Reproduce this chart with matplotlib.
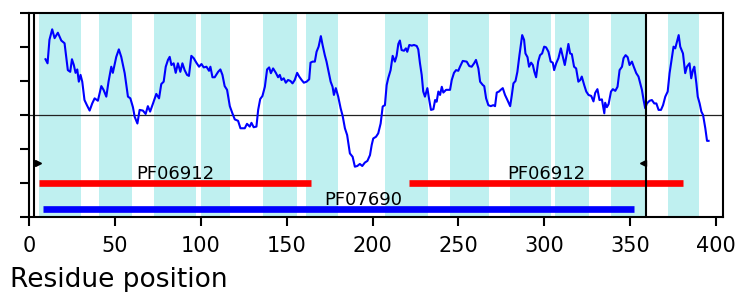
import matplotlib
matplotlib.use("Agg")
import matplotlib.pyplot as plt
import numpy as np

# hydropathy profile (residue, score)
resid = [9.6, 10.8, 11.9, 13.5, 14.9, 16.8, 18.8, 20.7, 22.6, 24.0, 25.0, 26.1, 27.1, 28.1,
         29.0, 30.0, 31.0, 32.3, 33.7, 35.3, 36.8, 38.2, 40.1, 42.1, 43.4, 45.0, 46.3, 47.9,
         48.8, 50.8, 52.3, 53.7, 55.7, 57.6, 59.0, 60.5, 61.5, 63.1, 64.4, 66.3, 67.9, 69.2,
         70.5, 72.2, 74.1, 75.7, 77.0, 78.4, 79.6, 80.9, 81.9, 82.9, 84.2, 85.4, 86.7, 88.1,
         89.3, 90.6, 92.0, 93.1, 94.5, 95.9, 97.4, 99.0, 100.4, 101.7, 103.3, 104.8, 105.6,
         106.8, 108.1, 110.1, 111.4, 112.6, 113.9, 115.3, 116.9, 118.4, 119.8, 121.7, 123.1,
         125.6, 126.9, 128.5, 129.5, 130.8, 132.4, 133.4, 134.6, 135.9, 137.3, 138.6, 139.8,
         140.8, 142.1, 143.7, 145.0, 146.0, 147.0, 148.3, 149.5, 150.8, 152.2, 153.4, 154.7,
         156.1, 157.3, 158.7, 160.0, 161.6, 163.1, 163.9, 165.1, 166.4, 167.4, 168.6, 169.9,
         170.9, 172.2, 173.2, 174.6, 175.6, 176.7, 177.5, 178.6, 180.0, 181.4, 182.6, 183.9,
         185.2, 186.8, 188.4, 189.7, 191.1, 192.6, 194.0, 195.5, 197.0, 198.5, 199.5, 200.4,
         202.0, 203.3, 204.7, 205.9, 207.2, 208.2, 209.1, 210.5, 211.7, 213.0, 214.0, 215.0,
         215.9, 216.9, 218.3, 219.4, 220.2, 221.4, 222.8, 224.1, 225.7, 226.6, 227.6, 228.6,
         229.5, 230.5, 231.9, 233.0, 234.0, 235.4, 236.4, 237.3, 238.3, 239.3, 240.3, 241.2,
         242.8, 245.1, 246.1, 247.4, 248.6, 249.9, 250.9, 252.5, 254.8, 256.3, 257.7, 259.1,
         260.2, 261.6, 262.6, 264.2, 265.0, 266.1, 267.4, 268.8, 270.3, 271.3, 272.3, 273.6,
         274.6, 275.8, 277.1, 278.5, 280.1, 281.0, 282.0, 283.2, 284.3, 285.5, 287.1, 288.2,
         289.0, 290.2, 291.1, 292.3, 293.3, 294.2, 295.2, 296.4, 297.5, 298.7, 299.9, 301.0,
         302.4, 303.7, 304.9, 305.7, 306.9, 308.2, 309.6, 310.8, 311.9, 313.1, 314.0, 315.0,
         316.0, 317.3, 318.5, 319.8, 320.9, 321.8, 323.2, 324.4, 325.7, 327.3, 328.6, 329.6,
         330.9, 332.1, 333.5, 334.9, 335.4, 336.4, 337.4, 338.8, 339.9, 341.3, 342.6, 343.8,
         345.2, 346.1, 347.3, 348.5, 349.6, 351.0, 351.9, 353.5, 354.8, 355.8, 356.8, 357.7,
         358.7, 359.7, 361.3, 362.6, 364.0, 365.2, 366.5, 367.9, 369.1, 370.4, 371.8, 372.9,
         374.3, 375.2, 376.2, 377.2, 378.2, 379.1, 380.7, 382.0, 383.0, 384.5, 385.5, 386.5,
         387.3, 388.5, 389.3, 390.4, 391.4, 392.4, 393.7, 394.7, 395.6]
score = [1.64, 1.52, 2.21, 2.52, 2.26, 2.42, 2.19, 2.11, 1.32, 1.27, 1.64, 1.47, 1.24, 1.34,
         0.98, 1.18, 0.98, 0.44, 0.29, 0.13, 0.34, 0.49, 0.42, 0.85, 0.74, 0.54, 0.98, 1.42,
         1.24, 1.71, 1.93, 1.71, 1.23, 0.54, 0.49, 0.23, -0.05, -0.25, 0.15, 0.13, 0.03, 0.26,
         0.10, 0.34, 0.62, 0.49, 0.91, 0.98, 1.42, 1.62, 1.71, 1.47, 1.52, 1.24, 1.52, 1.27,
         1.52, 1.32, 1.18, 1.15, 1.74, 1.67, 1.54, 1.42, 1.50, 1.40, 1.42, 1.30, 1.42,
         1.11, 1.11, 1.27, 1.34, 1.18, 0.85, 0.74, 0.26, 0.05, -0.13, -0.17, -0.39,
         -0.39, -0.26, -0.34, -0.23, -0.36, -0.34, 0.15, 0.47, 0.56, 0.83, 1.34, 1.40,
         1.23, 1.37, 1.24, 1.11, 1.18, 1.03, 1.08, 0.95, 1.03, 1.00, 0.93, 1.03,
         1.24, 1.13, 1.03, 0.95, 0.98, 1.05, 1.54, 1.57, 1.57, 1.86, 2.01, 2.32,
         2.06, 1.76, 1.57, 1.23, 0.98, 0.83, 0.59, 0.79, 0.54, 0.20, -0.03, -0.39,
         -0.59, -1.13, -1.23, -1.52, -1.50, -1.44, -1.50, -1.40, -1.35, -1.18, -0.88, -0.69,
         -0.64, -0.54, -0.25, 0.25, 0.29, 0.88, 1.08, 1.32, 1.74, 1.57, 1.74, 2.09,
         2.19, 1.91, 1.89, 1.96, 1.86, 2.06, 2.04, 2.06, 2.03, 1.93, 1.52, 1.18,
         0.69, 0.54, 0.79, 0.44, 0.15, 0.17, 0.44, 0.39, 0.69, 0.59, 0.83, 0.66,
         0.74, 0.74, 1.03, 1.24, 1.32, 1.30, 1.42, 1.59, 1.57, 1.44, 1.42, 1.52,
         1.62, 1.37, 0.98, 0.88, 0.85, 0.49, 0.29, 0.26, 0.29, 0.26, 0.66, 0.69,
         0.74, 0.79, 0.59, 0.44, 0.26, 0.56, 0.93, 1.00, 1.27, 1.76, 2.35, 2.21,
         1.81, 1.70, 1.42, 1.54, 1.47, 1.27, 1.11, 1.57, 1.76, 1.81, 2.01, 1.99,
         1.86, 1.57, 1.54, 1.32, 1.52, 1.67, 1.96, 1.70, 1.47, 1.81, 2.09, 1.81,
         1.79, 1.42, 1.37, 0.98, 1.03, 1.13, 0.88, 0.69, 0.59, 0.56, 0.40, 0.65,
         0.76, 0.44, 0.46, 0.05, 0.36, 0.23, 0.32, 0.69, 0.76, 0.71, 0.83, 1.32,
         1.42, 1.67, 1.76, 1.70, 1.47, 1.57, 1.44, 1.23, 1.13, 0.93, 0.74, 0.46,
         0.20, 0.34, 0.42, 0.44, 0.34, 0.34, 0.15, 0.15, 0.29, 0.54, 0.69, 1.23,
         1.71, 2.01, 1.96, 2.16, 2.35, 2.01, 1.81, 1.23, 1.42, 1.52, 1.08, 1.32,
         1.42, 0.93, 0.54, 0.34, 0.10, 0.00, -0.39, -0.76, -0.76]

# predicted transmembrane segments (shaded)
tm_start = [6, 41, 73, 100, 136, 161, 207, 245, 280, 306, 339, 372]
tm_end = [30, 60, 97, 117, 156, 180, 232, 268, 304, 326, 359, 390]

# domains
dom_names = ["PF06912", "PF06912", "PF07690"]
dom_start = [6, 221, 8]
dom_end = [164, 381, 352]
dom_y = [-2.0, -2.0, -2.77]
dom_label_x = [85, 301, 194.5]
dom_colors = ["#ff0000", "#ff0000", "#0000ff"]

# boundary markers
vline_pos = [3.2, 359.2]
tri_pos = [5.5, 357.6]
tri_y = -1.41
seq_len = 404

fig = plt.figure(figsize=(7.4, 2.92), dpi=100)
ax = fig.add_axes([29 / 740, 1 - 217 / 292, 694 / 740, 204 / 292])

for s, e in zip(tm_start, tm_end):
    ax.axvspan(s, e, color="#bff0f0", lw=0, zorder=0)

ax.axhline(0, color="#222222", lw=0.9, zorder=1)
ax.plot(resid, score, color="#0000ff", lw=1.5, zorder=3)

for x in vline_pos:
    ax.axvline(x, color="k", lw=1.5, zorder=4)
ax.plot([tri_pos[0]], [tri_y], marker=">", color="k", ms=5, zorder=5)
ax.plot([tri_pos[1]], [tri_y], marker="<", color="k", ms=5, zorder=5)

for name, s, e, y, lx, c in zip(dom_names, dom_start, dom_end, dom_y, dom_label_x, dom_colors):
    ax.plot([s, e], [y, y], color=c, lw=4.8, solid_capstyle="butt", zorder=3)
    ax.text(lx, y, name, ha="center", va="bottom", fontsize=13, zorder=2)

ax.set_xlim(0, seq_len)
ax.set_ylim(-3, 3)
ax.set_xticks(np.arange(0, 401, 50))
ax.set_yticks(np.arange(-3, 4, 1))
ax.set_yticklabels([])
ax.tick_params(axis="both", length=6.5, width=1.5, labelsize=15)
ax.tick_params(axis="x", pad=7)
for sp in ax.spines.values():
    sp.set_linewidth(1.5)

fig.text(10 / 740, (292 - 286.7) / 292, "Residue position", fontsize=19,
         ha="left", va="baseline")

fig.savefig("out.png", dpi=100)
